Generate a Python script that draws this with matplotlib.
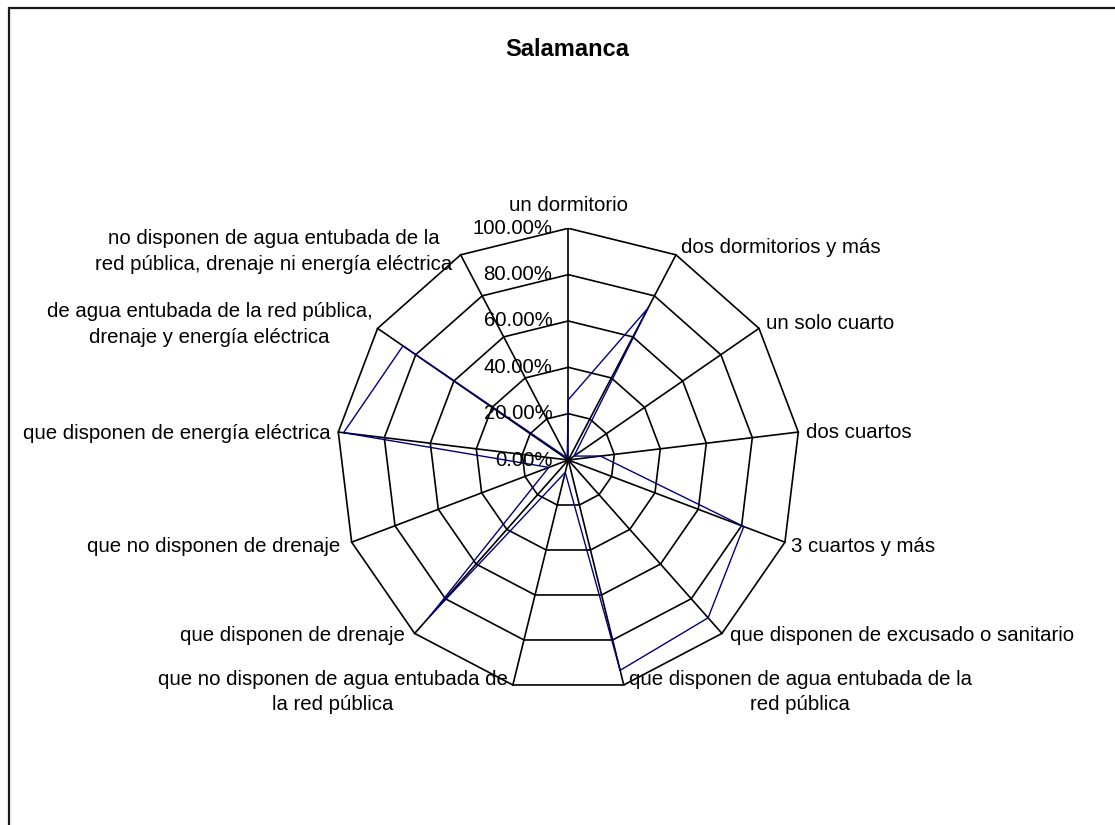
import numpy as np
import matplotlib
matplotlib.use("Agg")
import matplotlib.pyplot as plt
from matplotlib.patches import Rectangle

plt.rcParams['font.family'] = ['Liberation Sans', 'DejaVu Sans']

title = "Salamanca"
categories = [
    "un dormitorio",
    "dos dormitorios y más",
    "un solo cuarto",
    "dos cuartos",
    "3 cuartos y más",
    "que disponen de excusado o sanitario",
    "que disponen de agua entubada de la\nred pública",
    "que no disponen de agua entubada de\nla red pública",
    "que disponen de drenaje",
    "que no disponen de drenaje",
    "que disponen de energía eléctrica",
    "de agua entubada de la red pública,\ndrenaje y energía eléctrica",
    "no disponen de agua entubada de la\nred pública, drenaje ni energía eléctrica",
]
values = [0.26, 0.74, 0.03, 0.14, 0.81, 0.91, 0.935, 0.055, 0.905, 0.09, 0.977, 0.867, 0.01]
rings = [0.0, 0.2, 0.4, 0.6, 0.8, 1.0]

W, H = 1115, 825
fig = plt.figure(figsize=(W / 100, H / 100), dpi=100)
fig.patch.set_facecolor("white")

# chart geometry (pixels)
cx, cy, R = 568.3, 460.0, 231.7
ax = fig.add_axes([(cx - R) / W, (H - cy - R) / H, 2 * R / W, 2 * R / H])
ax.set_xlim(-1, 1)
ax.set_ylim(-1, 1)
ax.axis("off")

n = len(categories)
theta = np.arange(n) * 2 * np.pi / n

def xy(r, t):
    return r * np.sin(t), r * np.cos(t)

# polygon rings
tc = np.append(theta, theta[0])
for r in rings[1:]:
    x, y = xy(r, tc)
    ax.plot(x, y, color="black", lw=1.2, solid_joinstyle="miter", zorder=1)
# spokes
for t in theta:
    x, y = xy(np.array([0, 1.0]), t)
    ax.plot(x, y, color="black", lw=1.2, zorder=1)

# data series
v = np.append(values, values[0])
x, y = xy(v, tc)
ax.plot(x, y, color="#000080", lw=1.0, zorder=3)

FS = 14.7

# radial tick labels
for r in rings:
    ax.annotate(f"{r:.2%}", xy=(0, r), xytext=(-16 * 0.72, 0), textcoords="offset points",
                ha="right", va="center", fontsize=FS, color="black", zorder=4,
                annotation_clip=False)

# category labels: (dx, dy) in pixels screen, ha
label_layout = [
    (0, -23, "center"),
    (5, -7, "left"),
    (7, -5, "left"),
    (8, 0, "left"),
    (6, 4, "left"),
    (8, 2, "left"),
    (5, 7, "left"),
    (-5, 7, "right"),
    (-10, 2, "right"),
    (-11, 4, "right"),
    (-8, 1, "right"),
    (-5, -4, "right"),
    (-8, -3, "right"),
]
for lab, t, (dx, dy, ha) in zip(categories, theta, label_layout):
    px, py = xy(1.0, t)
    ax.annotate(lab, xy=(px, py), xytext=(dx * 0.72, -dy * 0.72), textcoords="offset points",
                ha=ha, va="center", multialignment="center", fontsize=FS, color="black",
                annotation_clip=False, linespacing=1.45)

fig.text(567 / W, 1 - 50 / H, title, ha="center", va="center", fontsize=17,
         fontweight="bold", color="black")

# chart border (left and top visible)
fig.add_artist(Rectangle((8.5 / W, -20 / H), (W + 40) / W, (H - 7.5 + 20) / H,
                         transform=fig.transFigure, fill=False, edgecolor="#1a1a1a",
                         lw=1.6))

fig.savefig("out.png", dpi=100, facecolor="white")
